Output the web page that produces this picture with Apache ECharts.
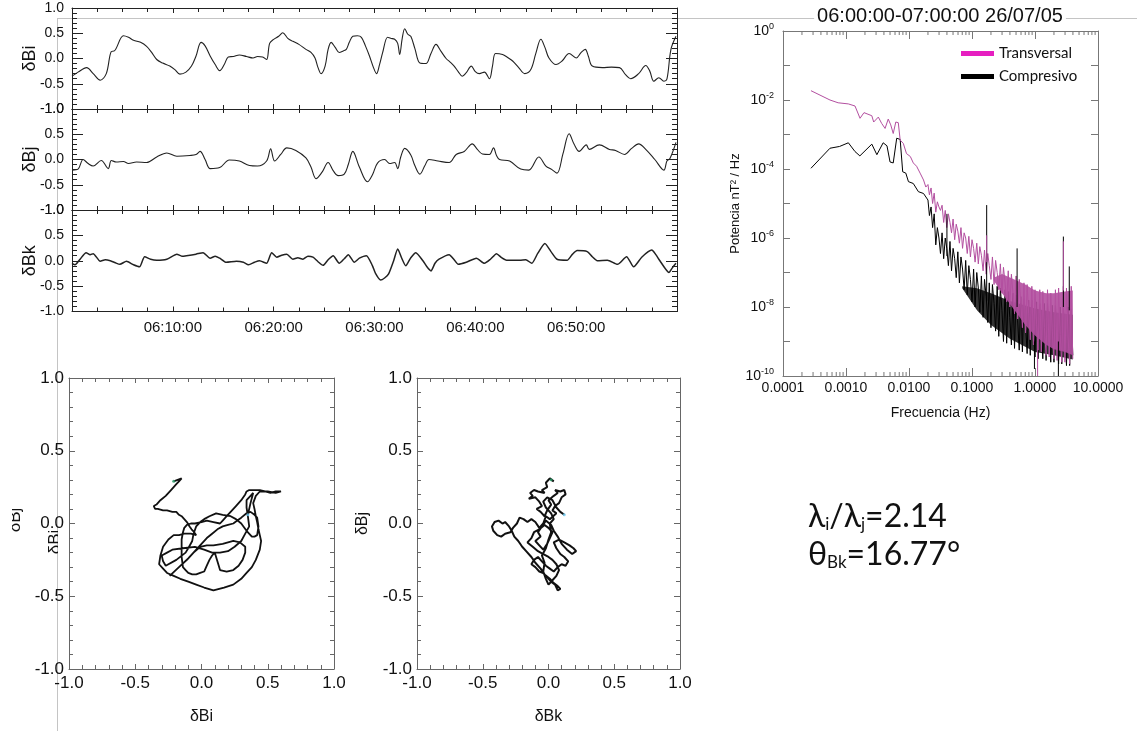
<!DOCTYPE html>
<html>
<head>
<meta charset="utf-8">
<script src="https://cdn.jsdelivr.net/npm/echarts@6/dist/echarts.min.js"></script>
<style>
  html, body { margin: 0; padding: 0; background: #fff; }
  #chart { width: 1137px; height: 731px; }
</style>
</head>
<body>
<div id="chart"></div>
<script>
// ---- Magnetic field fluctuations, minimum-variance frame (minutes after 06:00, nT) ----
const biSeries = [[0,-0.35],[0.6,-0.27],[1.45,-0.18],[2.1,-0.3],[2.8,-0.43],[3.4,-0.3],[3.9,0.14],[4.2,0.15],[5.1,0.45],[5.6,0.42],[6.1,0.36],[6.8,0.32],[7.4,0.24],[7.9,0.12],[8.4,-0.02],[9.0,-0.09],[9.7,-0.15],[10.2,-0.22],[10.7,-0.31],[11.3,-0.27],[11.85,-0.15],[12.3,0.05],[12.8,0.32],[13.2,0.25],[13.7,0.05],[14.2,-0.12],[14.65,-0.24],[15.1,-0.12],[15.5,0.03],[16.0,0.04],[16.6,0.07],[17.3,0.04],[17.95,0.01],[18.4,0.04],[18.9,0.03],[19.3,-0.02],[19.6,0.30],[20.0,0.38],[20.5,0.44],[20.9,0.51],[21.4,0.40],[21.9,0.34],[22.5,0.28],[23.2,0.18],[23.7,0.12],[24.1,0.01],[24.4,-0.18],[24.7,-0.30],[25.1,-0.15],[25.4,0.18],[25.7,0.32],[26.1,0.22],[26.5,0.12],[26.9,0.15],[27.2,0.18],[27.5,0.32],[27.85,0.44],[28.3,0.45],[28.7,0.42],[29.1,0.25],[29.5,0.05],[29.9,-0.18],[30.2,-0.30],[30.5,-0.12],[30.8,0.11],[31.3,0.42],[31.6,0.40],[32.0,0.38],[32.3,0.30],[32.5,0.08],[32.75,0.40],[33.0,0.59],[33.3,0.48],[33.6,0.44],[34.0,0.20],[34.5,-0.09],[35.1,-0.10],[35.6,0.10],[36.1,0.28],[36.6,0.14],[37.1,0.00],[37.5,-0.07],[37.9,-0.15],[38.3,-0.26],[38.7,-0.35],[39.1,-0.28],[39.6,-0.15],[40.0,-0.26],[40.4,-0.30],[40.9,-0.27],[41.4,-0.40],[41.7,-0.15],[42.0,0.10],[42.7,0.08],[43.2,0.02],[43.7,-0.05],[44.3,-0.18],[44.9,-0.30],[45.5,-0.22],[46.0,0.10],[46.5,0.38],[46.9,0.22],[47.3,0.01],[48.0,-0.12],[48.6,-0.05],[49.3,0.10],[50.0,0.01],[50.5,0.12],[50.9,0.18],[51.2,0.05],[51.6,-0.15],[52.6,-0.18],[53.5,-0.17],[54.3,-0.18],[54.9,-0.32],[55.4,-0.40],[56.2,-0.30],[56.9,-0.14],[57.3,-0.25],[57.7,-0.45],[58.2,-0.38],[58.7,-0.45],[59.0,-0.41],[59.4,0.18],[59.9,0.44]];

const bjSeries = [[0,-0.21],[0.6,-0.19],[1.1,0.0],[1.6,-0.08],[2.1,-0.13],[2.9,-0.02],[3.6,-0.18],[3.9,-0.02],[4.4,-0.05],[5.1,-0.04],[5.6,-0.08],[6.4,-0.05],[7.4,-0.06],[8.4,0.05],[9.4,0.13],[10.4,0.065],[11.7,0.08],[12.3,0.10],[12.7,0.16],[13.2,0.0],[13.7,-0.18],[14.65,-0.16],[15.6,-0.01],[16.6,-0.03],[17.6,-0.12],[18.4,-0.13],[19.3,-0.03],[19.7,0.21],[20.1,-0.03],[20.7,0.10],[21.3,0.23],[22.2,0.18],[23.2,0.03],[23.7,-0.15],[24.2,-0.38],[24.8,-0.25],[25.4,-0.06],[25.9,-0.22],[26.4,-0.32],[27.0,-0.29],[27.4,-0.10],[27.85,0.16],[28.5,-0.15],[29.3,-0.44],[29.8,-0.30],[30.3,-0.07],[31.0,0.0],[31.5,-0.08],[32.0,-0.06],[32.3,-0.18],[32.6,0.05],[33.0,0.22],[33.6,0.09],[34.0,-0.12],[34.5,-0.29],[35.0,-0.12],[35.4,0.0],[36.3,-0.03],[37.4,-0.06],[38.1,0.10],[38.9,0.16],[39.7,0.31],[40.2,0.20],[40.7,0.11],[41.4,0.10],[41.8,0.23],[42.1,0.08],[42.4,0.0],[43.4,-0.03],[44.5,-0.19],[45.3,-0.21],[46.3,0.05],[47.0,-0.13],[47.6,-0.20],[48.1,-0.27],[48.7,0.12],[49.3,0.51],[49.8,0.30],[50.3,0.16],[51.0,0.29],[51.3,0.20],[52.3,0.29],[53.3,0.20],[53.9,0.18],[54.8,0.10],[55.5,0.22],[56.2,0.31],[56.9,0.20],[57.8,0.0],[58.7,-0.21],[59.0,-0.03],[59.3,0.02],[59.9,0.34]];

const bkSeries = [[0,-0.05],[0.3,-0.08],[0.8,0.03],[1.4,0.16],[1.8,0.12],[2.1,0.14],[2.8,-0.01],[3.3,0.02],[3.8,0.0],[4.3,-0.04],[4.75,-0.07],[5.4,-0.01],[6.1,-0.08],[6.7,-0.12],[7.2,0.08],[7.8,0.03],[8.4,0.01],[9.4,0.03],[10.4,0.13],[10.9,0.09],[11.35,0.10],[12.3,0.13],[13.0,0.16],[13.7,0.05],[14.2,0.09],[14.65,0.05],[15.3,-0.03],[16.3,-0.01],[17.0,-0.03],[17.5,-0.08],[18.1,-0.03],[18.6,0.0],[19.3,-0.05],[19.8,0.16],[20.3,0.07],[20.8,0.11],[21.3,0.13],[21.9,0.03],[22.4,0.06],[22.9,0.03],[23.4,0.09],[23.9,0.07],[24.4,-0.02],[24.9,-0.09],[25.4,0.02],[25.9,0.10],[26.5,-0.05],[27.0,0.04],[27.4,0.12],[28.0,-0.03],[28.5,0.05],[29.2,0.10],[29.8,-0.10],[30.1,-0.25],[30.6,-0.38],[31.0,-0.34],[31.4,-0.26],[31.9,0.0],[32.3,0.23],[32.7,0.05],[33.1,-0.10],[33.6,0.06],[34.1,0.16],[34.8,0.0],[35.2,-0.12],[35.6,-0.20],[36.0,-0.05],[36.4,0.03],[37.4,0.12],[37.9,0.02],[38.3,-0.07],[39.1,-0.03],[40.1,0.05],[40.9,-0.05],[41.5,0.03],[42.1,0.14],[42.6,0.06],[43.1,0.01],[44.4,0.01],[45.0,0.02],[45.6,-0.05],[46.2,0.15],[46.9,0.34],[47.5,0.18],[48.1,0.03],[49.1,0.01],[49.6,0.12],[50.1,0.20],[51.1,0.18],[51.6,0.08],[52.1,0.0],[53.1,0.01],[54.1,-0.07],[55.0,0.08],[55.7,-0.12],[56.5,0.07],[57.5,0.21],[57.9,0.12],[58.3,0.0],[59.2,-0.23],[59.5,-0.15],[59.9,-0.05]];

const timeTickMinutes = [10, 20, 30, 40, 50];
const timeTickLabels = ['06:10:00', '06:20:00', '06:30:00', '06:40:00', '06:50:00'];

// ---- Power spectra [frequency Hz, nT^2/Hz] ----
const transSpec = [[0.000278,1.86e-2],[0.000557,1.0e-2],[0.00075,8.3e-3],[0.00109,7.7e-3],[0.00139,6.7e-3],[0.00167,2.95e-3],[0.00193,4.3e-3],[0.00257,3.5e-3],[0.00275,2.3e-3],[0.00326,3.2e-3],[0.00368,2.1e-3],[0.00417,1.5e-3],[0.00468,2.8e-3],[0.00513,1.9e-3],[0.00562,1.07e-3],[0.00617,2.3e-3],[0.00676,2.2e-3],[0.00724,6.9e-4],[0.00813,5.5e-4],[0.00912,2.8e-4],[0.0105,2.3e-4],[0.0117,1.5e-4],[0.0132,1.2e-4],[0.015,7.6e-5],[0.017,4.8e-5],[0.0185,3.0e-5],
 [0.0200,3.55e-5],[0.0211,1.78e-5],[0.0224,2.82e-5],[0.0237,1.0e-5],[0.0251,2.0e-5],[0.0266,5.62e-6],[0.0282,1.12e-5],[0.0299,7.94e-6],[0.0316,6.31e-6],[0.0335,8.91e-6],[0.0355,2.82e-6],[0.0376,6.31e-6],[0.0398,2.0e-6],[0.0422,5.01e-6],[0.0447,2.82e-6],[0.0473,1.41e-6],[0.0501,3.55e-6],[0.0531,8.91e-7],[0.0562,2.51e-6],[0.0596,1.58e-6],[0.0631,7.08e-7],[0.0668,2.0e-6],[0.0708,5.01e-7],[0.0750,1.41e-6],[0.0794,1.0e-6],[0.0841,3.55e-7],[0.0891,1.12e-6],[0.0944,2.82e-7],[0.100,8.91e-7],[0.106,5.01e-7],[0.112,2.0e-7],[0.119,7.08e-7],[0.126,1.78e-7],[0.133,5.62e-7],[0.141,3.16e-7],[0.150,1.12e-7],[0.158,4.47e-7],[0.168,8.91e-8],[0.178,3.55e-7],[0.188,1.58e-7],[0.200,6.31e-8],[0.211,2.82e-7],[0.224,4.47e-8],[0.237,2.24e-7],[0.251,1.0e-7],[0.266,3.16e-8],[0.282,1.78e-7],[0.299,2.51e-8],[0.316,1.41e-7],[0.335,5.01e-8],[0.355,1.41e-8],[0.376,1.12e-7],[0.398,1.0e-8],[0.422,8.91e-8],[0.447,2.51e-8],[0.473,6.31e-9],[0.501,7.94e-8],[0.531,4.47e-9],[0.562,6.31e-8],[0.596,1.26e-8],[0.631,2.51e-9],[0.668,5.01e-8],[0.708,1.78e-9],[0.750,4.47e-8],[0.794,6.31e-9],[0.841,1.12e-9],[0.891,3.98e-8],[0.944,7.94e-10],[1.00,3.16e-8],[1.06,3.16e-9],[1.12,5.62e-10],[1.19,3.16e-8],[1.26,5.01e-10],[1.33,2.82e-8],[1.41,2.51e-9],[1.50,3.98e-10],[1.58,3.16e-8],[1.68,3.55e-10],[1.78,2.51e-8],[1.88,2.0e-9],[2.00,3.16e-10],[2.11,3.16e-8],[2.24,2.82e-10],[2.37,3.55e-8],[2.51,1.58e-9],[2.66,2.51e-10],[2.82,3.98e-8],[2.99,2.51e-10],[3.16,3.55e-8],[3.35,1.26e-9],[3.55,2.24e-10],[3.76,3.98e-8],[3.98,3.16e-10]];

const compSpec = [[0.000278,1.05e-4],[0.000557,4.0e-4],[0.00079,4.5e-4],[0.00109,5.75e-4],[0.00139,3.2e-4],[0.00166,2.4e-4],[0.00257,5.25e-4],[0.00309,2.6e-4],[0.00389,5.75e-4],[0.00447,4.7e-4],[0.0050,1.6e-4],[0.00562,1.5e-4],[0.00638,7.8e-4],[0.00724,7.2e-4],[0.00794,8.3e-5],[0.0089,7.6e-5],[0.0098,4.3e-5],[0.0117,3.8e-5],[0.0141,2.2e-5],[0.0170,1.95e-5],
 [0.0200,1.26e-5],[0.0211,4.47e-6],[0.0224,7.94e-6],[0.0237,2.0e-6],[0.0251,5.01e-6],[0.0266,6.31e-7],[0.0282,2.0e-6],[0.0299,1.0e-6],[0.0316,3.55e-7],[0.0335,1.41e-6],[0.0355,2.51e-7],[0.0376,1.0e-6],[0.0398,5.01e-7],[0.0422,1.58e-7],[0.0447,7.94e-7],[0.0473,1.12e-7],[0.0501,5.01e-7],[0.0531,2.51e-7],[0.0562,7.08e-8],[0.0596,3.98e-7],[0.0631,5.01e-8],[0.0668,2.82e-7],[0.0708,1.26e-7],[0.0750,3.16e-8],[0.0794,2.24e-7],[0.0841,2.24e-8],[0.0891,1.58e-7],[0.0944,6.31e-8],[0.100,1.41e-8],[0.106,1.26e-7],[0.112,1.0e-8],[0.119,1.0e-7],[0.126,3.55e-8],[0.133,7.08e-9],[0.141,7.94e-8],[0.150,5.01e-9],[0.158,6.31e-8],[0.168,2.0e-8],[0.178,3.55e-9],[0.188,5.01e-8],[0.200,2.51e-9],[0.211,4.47e-8],[0.224,1.26e-8],[0.237,2.0e-9],[0.251,3.98e-8],[0.266,1.41e-9],[0.282,3.55e-8],[0.299,7.94e-9],[0.316,1.0e-9],[0.335,3.16e-8],[0.355,8.91e-10],[0.376,2.82e-8],[0.398,5.01e-9],[0.422,7.94e-10],[0.447,2.51e-8],[0.473,6.31e-10],[0.501,2.24e-8],[0.531,3.98e-9],[0.562,5.62e-10],[0.596,2.0e-8],[0.631,5.01e-10],[0.668,1.78e-8],[0.708,3.16e-9],[0.750,4.47e-10],[0.794,1.58e-8],[0.841,3.98e-10],[0.891,1.58e-8],[0.944,2.51e-9],[1.00,3.55e-10],[1.06,1.41e-8],[1.12,3.16e-10],[1.19,1.26e-8],[1.26,2.0e-9],[1.33,3.16e-10],[1.41,1.26e-8],[1.50,2.82e-10],[1.58,1.26e-8],[1.68,1.78e-9],[1.78,2.51e-10],[1.88,1.12e-8],[2.00,2.51e-10],[2.11,1.12e-8],[2.24,1.58e-9],[2.37,2.24e-10],[2.51,1.0e-8],[2.66,2.24e-10],[2.82,1.0e-8],[2.99,1.41e-9],[3.16,2.0e-10],[3.35,1.0e-8],[3.55,2.0e-10],[3.76,8.91e-9],[3.98,3.98e-10]];

// upper / lower envelope of the densest high-frequency noise [f, high, low]
const transBand = [[0.22,7e-8,6e-8],[0.3,9e-8,2.5e-8],[0.5,6e-8,7e-9],[0.7,4.5e-8,3e-9],[1.0,3e-8,1.5e-9],[1.5,2.5e-8,8e-10],[2.0,2.5e-8,6e-10],[3.0,2.8e-8,5e-10],[3.98,3e-8,4e-10]];
const compBand = [[0.07,4e-8,3.5e-8],[0.12,3.5e-8,8e-9],[0.2,2.5e-8,3e-9],[0.4,1.5e-8,1.2e-9],[0.7,1.1e-8,7e-10],[1.0,9e-9,5e-10],[2.0,7e-9,4e-10],[3.98,6e-9,3e-10]];

// isolated spectral spikes [f, from, to]
const compSpikes = [[0.04,3e-7,5e-6],[0.171,1.5e-8,9e-6],[0.52,1e-8,5e-7],[0.98,1.6e-10,1e-9],[2.35,1.0e-10,1e-9],[2.82,1e-8,1.1e-6],[3.5,8e-9,1.5e-7]];
const transSpikes = [[0.171,2e-7,1.2e-6],[1.1,1.0e-10,1e-9],[2.82,3e-8,8e-7]];

const specXLabels = ['0.0001', '0.0010', '0.0100', '0.1000', '1.0000', '10.0000'];
const specYExponents = [0, -2, -4, -6, -8, -10];

// ---- Hodograms [x, y] ----
const hodoIJ = [[-0.21,0.29],[-0.18,0.30],[-0.15,0.31],[-0.17,0.29],[-0.19,0.27],[-0.23,0.23],[-0.27,0.19],[-0.31,0.16],[-0.34,0.13],[-0.36,0.12],[-0.35,0.10],[-0.33,0.10],[-0.29,0.09],[-0.26,0.09],[-0.22,0.08],[-0.19,0.08],[-0.17,0.06],[-0.15,0.05],[-0.13,0.03],[-0.11,0.01],[-0.09,-0.02],[-0.075,-0.04],[-0.055,-0.06],[-0.04,-0.08],[-0.08,-0.07],[-0.13,-0.07],[-0.17,-0.08],[-0.21,-0.08],[-0.25,-0.11],[-0.29,-0.16],[-0.31,-0.22],[-0.32,-0.28],[-0.29,-0.31],[-0.26,-0.34],[-0.21,-0.36],[-0.16,-0.38],[-0.10,-0.40],[-0.04,-0.42],[0.02,-0.44],[0.09,-0.46],[0.17,-0.44],[0.24,-0.42],[0.30,-0.38],[0.34,-0.34],[0.38,-0.30],[0.41,-0.25],[0.44,-0.18],[0.45,-0.12],[0.44,-0.08],[0.43,-0.04],[0.42,0.01],[0.41,0.05],[0.40,0.10],[0.39,0.14],[0.41,0.19],[0.44,0.22],[0.50,0.22],[0.56,0.21],[0.60,0.22],[0.56,0.22],[0.52,0.21],[0.48,0.22],[0.44,0.23],[0.40,0.23],[0.36,0.23],[0.34,0.22],[0.33,0.20],[0.30,0.16],[0.26,0.12],[0.22,0.08],[0.19,0.05],[0.16,0.02],[0.14,0.0],[0.09,0.01],[0.04,0.02],[0.0,0.01],[-0.05,0.0],[-0.08,0.0],[-0.11,-0.01],[-0.13,-0.03],[-0.14,-0.06],[-0.15,-0.11],[-0.15,-0.16],[-0.15,-0.23],[-0.14,-0.30],[-0.12,-0.32],[-0.10,-0.34],[-0.07,-0.35],[-0.04,-0.35],[-0.01,-0.34],[0.02,-0.33],[0.04,-0.29],[0.06,-0.25],[0.08,-0.22],[0.10,-0.20],[0.12,-0.26],[0.14,-0.32],[0.19,-0.33],[0.24,-0.32],[0.28,-0.29],[0.31,-0.25],[0.33,-0.20],[0.33,-0.16],[0.29,-0.13],[0.24,-0.12],[0.16,-0.14],[0.09,-0.15],[0.04,-0.15],[-0.01,-0.16],[-0.06,-0.20],[-0.11,-0.25],[-0.17,-0.30],[-0.24,-0.36],[-0.17,-0.30],[-0.10,-0.24],[-0.05,-0.19],[0.00,-0.14],[0.04,-0.10],[0.08,-0.07],[0.12,-0.04],[0.16,-0.02],[0.20,-0.01],[0.24,0.00],[0.27,0.02],[0.30,0.04],[0.34,0.07],[0.37,0.08],[0.40,0.06],[0.42,0.04],[0.43,-0.02],[0.42,-0.08],[0.40,-0.09],[0.38,-0.09],[0.34,-0.05],[0.30,0.00],[0.26,0.03],[0.22,0.05],[0.16,0.06],[0.11,0.07],[0.06,0.05],[0.02,0.03],[-0.01,0.01],[-0.04,-0.02],[-0.06,-0.07],[-0.07,-0.12],[-0.10,-0.17],[-0.12,-0.20],[-0.19,-0.25],[-0.27,-0.29],[-0.29,-0.26],[-0.30,-0.22],[-0.26,-0.20],[-0.22,-0.18],[-0.14,-0.17],[-0.05,-0.16],[0.02,-0.18],[0.08,-0.20],[0.14,-0.20],[0.20,-0.19],[0.25,-0.16],[0.30,-0.12],[0.33,-0.07],[0.36,-0.02],[0.35,0.05],[0.34,0.11],[0.34,0.16],[0.37,0.19],[0.39,0.21],[0.37,0.14],[0.35,0.06]];

const hodoKJ = [[0.02,0.30],[0.04,0.29],[0.01,0.31],[-0.02,0.28],[-0.01,0.25],[-0.05,0.23],[-0.03,0.21],[-0.08,0.22],[-0.11,0.23],[-0.14,0.21],[-0.12,0.19],[-0.15,0.17],[-0.10,0.18],[-0.07,0.15],[-0.05,0.12],[-0.09,0.10],[-0.06,0.08],[-0.03,0.05],[-0.01,0.09],[0.02,0.13],[0.0,0.16],[0.04,0.19],[0.07,0.21],[0.05,0.23],[0.09,0.22],[0.12,0.23],[0.13,0.20],[0.10,0.18],[0.08,0.14],[0.05,0.12],[0.03,0.09],[0.06,0.07],[0.01,0.03],[-0.02,0.05],[-0.04,0.0],[-0.07,-0.03],[-0.10,0.01],[-0.13,0.03],[-0.16,0.01],[-0.19,0.03],[-0.22,0.04],[-0.24,0.0],[-0.27,-0.03],[-0.29,-0.06],[-0.33,-0.07],[-0.36,-0.09],[-0.39,-0.08],[-0.42,-0.05],[-0.43,-0.02],[-0.41,0.01],[-0.38,0.02],[-0.35,0.0],[-0.33,0.01],[-0.30,-0.02],[-0.28,-0.05],[-0.26,-0.09],[-0.23,-0.12],[-0.20,-0.16],[-0.17,-0.19],[-0.13,-0.23],[-0.10,-0.27],[-0.06,-0.31],[-0.03,-0.35],[0.01,-0.38],[0.04,-0.41],[0.07,-0.43],[0.09,-0.45],[0.07,-0.46],[0.05,-0.42],[0.02,-0.40],[-0.01,-0.37],[-0.04,-0.34],[-0.07,-0.33],[-0.10,-0.30],[-0.13,-0.28],[-0.11,-0.25],[-0.08,-0.23],[-0.05,-0.26],[-0.02,-0.29],[0.01,-0.31],[0.04,-0.33],[0.07,-0.30],[0.10,-0.28],[0.13,-0.29],[0.15,-0.26],[0.12,-0.23],[0.09,-0.21],[0.06,-0.17],[0.04,-0.13],[0.08,-0.11],[0.12,-0.13],[0.16,-0.15],[0.19,-0.17],[0.21,-0.19],[0.18,-0.21],[0.14,-0.18],[0.10,-0.14],[0.07,-0.09],[0.04,-0.05],[0.02,-0.01],[-0.02,0.02],[-0.05,-0.02],[-0.08,-0.06],[-0.06,-0.09],[-0.10,-0.12],[-0.07,-0.15],[-0.04,-0.18],[-0.01,-0.14],[0.01,-0.10],[0.03,-0.06],[0.00,-0.03],[-0.03,-0.01],[-0.07,-0.04],[-0.11,-0.06],[-0.13,-0.10],[-0.16,-0.13],[-0.12,-0.16],[-0.08,-0.19],[-0.04,-0.21],[0.0,-0.23],[0.03,-0.25],[0.06,-0.28],[0.08,-0.32],[0.06,-0.36],[0.03,-0.39],[0.0,-0.42],[-0.02,-0.38],[-0.04,-0.33],[-0.03,-0.27],[-0.05,-0.22],[-0.02,-0.17],[0.0,-0.11],[0.02,-0.06],[0.01,0.0],[0.04,0.03],[0.02,0.07],[-0.02,0.11],[-0.04,0.15],[-0.01,0.18],[0.03,0.16],[0.06,0.11],[0.09,0.08],[0.12,0.06]];

// ---------------------------------------------------------------------------
const SANS = 'Liberation Sans, Arial, sans-serif';
const HUMAN = 'Lato, "Open Sans", sans-serif';
const INK = '#111';

const grids = [
  { left: 72, top: 8, width: 605, height: 101 },
  { left: 72, top: 109, width: 605, height: 101 },
  { left: 72, top: 210, width: 605, height: 101.5 },
  { left: 783, top: 31, width: 315, height: 345 },
  { left: 69, top: 378, width: 265, height: 291 },
  { left: 417, top: 378, width: 263, height: 291 }
];

const xAxes = [];
const yAxes = [];

function tick(len, color) { return { show: true, inside: true, length: len, lineStyle: { color: color, width: 1 } }; }
function line(color) { return { show: true, onZero: false, lineStyle: { color: color, width: 1 } }; }

// time-series panels: bottom/top time axes, left/right field axes
const tsNames = ['δBi', 'δBj', 'δBk'];
for (let g = 0; g < 3; g++) {
  ['bottom', 'top'].forEach(pos => {
    xAxes.push({
      type: 'value', gridIndex: g, position: pos, min: 0, max: 60, interval: 10,
      axisLine: line('#222'), axisTick: tick(5, '#222'),
      minorTick: { show: true, splitNumber: 4, length: 4, lineStyle: { color: '#222' } },
      splitLine: { show: false },
      axisLabel: (pos === 'bottom' && g === 2) ? {
        show: true, margin: 9, fontSize: 15, fontFamily: SANS, color: INK,
        formatter: v => { const i = timeTickMinutes.indexOf(Math.round(v)); return i < 0 ? '' : timeTickLabels[i]; }
      } : { show: false }
    });
  });
  ['left', 'right'].forEach(pos => {
    yAxes.push({
      type: 'value', gridIndex: g, position: pos, min: -1, max: 1, interval: 0.5,
      axisLine: line('#222'), axisTick: tick(11, '#222'),
      minorTick: { show: true, splitNumber: 5, length: 5, lineStyle: { color: '#222' } },
      splitLine: { show: false },
      axisLabel: pos === 'left' ? { show: true, margin: 8, fontSize: 14, fontFamily: SANS, color: INK, formatter: v => v.toFixed(1) } : { show: false },
      name: pos === 'left' ? tsNames[g] : '',
      nameLocation: 'middle', nameGap: 33, nameRotate: 90, nameMoveOverlap: false,
      nameTextStyle: { fontSize: 18, fontFamily: SANS, color: INK }
    });
  });
}

// spectrum panel: log-log
['bottom', 'top'].forEach(pos => {
  xAxes.push({
    type: 'log', logBase: 10, gridIndex: 3, position: pos, min: 1e-4, max: 10, interval: 1,
    axisLine: line('#777'), axisTick: tick(8, '#777'), minorTick: { show: false },
    splitLine: { show: false },
    axisLabel: pos === 'bottom' ? {
      show: true, margin: 5, fontSize: 14, fontFamily: SANS, color: INK,
      formatter: v => specXLabels[Math.round(Math.log10(v)) + 4]
    } : { show: false },
    name: pos === 'bottom' ? 'Frecuencia (Hz)' : '',
    nameLocation: 'middle', nameGap: 30,
    nameTextStyle: { fontSize: 14, fontFamily: SANS, color: INK }
  });
});
['left', 'right'].forEach(pos => {
  yAxes.push({
    type: 'log', logBase: 10, gridIndex: 3, position: pos, min: 1e-10, max: 1, interval: 1,
    axisLine: line('#777'), axisTick: tick(7, '#777'), minorTick: { show: false },
    splitLine: { show: false },
    axisLabel: pos === 'left' ? {
      show: true, margin: 9, fontFamily: SANS, color: INK,
      formatter: v => { const e = Math.round(Math.log10(v)); return specYExponents.indexOf(e) < 0 ? '' : '{b|10}{e|' + e + '}'; },
      rich: {
        b: { fontSize: 14, fontFamily: SANS, color: INK },
        e: { fontSize: 9, fontFamily: SANS, color: INK, padding: [0, 0, 9, 0] }
      }
    } : { show: false },
    name: pos === 'left' ? 'Potencia nT² / Hz' : '',
    nameLocation: 'middle', nameGap: 38, nameRotate: 90,
    nameTextStyle: { fontSize: 13, fontFamily: SANS, color: INK }
  });
});

// hodogram panels
const hodoXNames = ['δBi', 'δBk'];
const hodoYNames = ['', 'δBj'];
for (let h = 0; h < 2; h++) {
  const g = 4 + h;
  ['bottom', 'top'].forEach(pos => {
    xAxes.push({
      type: 'value', gridIndex: g, position: pos, min: -1, max: 1, interval: 0.5,
      axisLine: line('#666'), axisTick: tick(5, '#666'),
      minorTick: { show: true, splitNumber: 5, length: 4, lineStyle: { color: '#666' } },
      splitLine: { show: false },
      axisLabel: pos === 'bottom' ? { show: true, margin: 6, fontSize: 17, fontFamily: SANS, color: INK, formatter: v => v.toFixed(1) } : { show: false },
      name: pos === 'bottom' ? hodoXNames[h] : '',
      nameLocation: 'middle', nameGap: 40,
      nameTextStyle: { fontSize: 16, fontFamily: SANS, color: INK }
    });
  });
  ['left', 'right'].forEach(pos => {
    yAxes.push({
      type: 'value', gridIndex: g, position: pos, min: -1, max: 1, interval: 0.5,
      axisLine: line('#666'), axisTick: tick(6, '#666'),
      minorTick: { show: true, splitNumber: 5, length: 4, lineStyle: { color: '#666' } },
      splitLine: { show: false },
      axisLabel: pos === 'left' ? { show: true, margin: 5, fontSize: 17, fontFamily: SANS, color: INK, formatter: v => v.toFixed(1) } : { show: false },
      name: pos === 'left' ? hodoYNames[h] : '',
      nameLocation: 'middle', nameGap: 46, nameRotate: 90,
      nameTextStyle: { fontSize: 16, fontFamily: SANS, color: INK }
    });
  });
}

// minor log ticks on the frequency axis (2..9 within each decade)
const specMinor = [];
for (let k = -4; k <= 0; k++) for (let m = 2; m <= 9; m++) specMinor.push([m * Math.pow(10, k), 1e-10]);

function bandSeries(name, band, color, opacity, z) {
  return {
    type: 'custom', name: name, xAxisIndex: 6, yAxisIndex: 6, clip: true, silent: true, z: z,
    data: band,
    renderItem: (params, api) => {
      if (params.dataIndex !== 0) return null;
      const up = band.map(d => api.coord([d[0], d[1]]));
      const dn = band.slice().reverse().map(d => api.coord([d[0], d[2]]));
      return { type: 'polygon', shape: { points: up.concat(dn) }, style: { fill: color, opacity: opacity } };
    }
  };
}
function spikeSeries(name, spikes, color, z) {
  return {
    type: 'custom', name: name, xAxisIndex: 6, yAxisIndex: 6, clip: true, silent: true, z: z,
    data: spikes,
    renderItem: (params, api) => {
      const a = api.coord([api.value(0), api.value(1)]);
      const b = api.coord([api.value(0), api.value(2)]);
      return { type: 'line', shape: { x1: a[0], y1: a[1], x2: b[0], y2: b[1] }, style: { stroke: color, lineWidth: 1 } };
    }
  };
}

const TRANS = '#b34fa0';
const series = [
  { type: 'line', name: 'δBi', xAxisIndex: 0, yAxisIndex: 0, data: biSeries, showSymbol: false, smooth: 0.35, lineStyle: { color: '#222', width: 1.1 } },
  { type: 'line', name: 'δBj', xAxisIndex: 2, yAxisIndex: 2, data: bjSeries, showSymbol: false, smooth: 0.35, lineStyle: { color: '#222', width: 1.1 } },
  { type: 'line', name: 'δBk', xAxisIndex: 4, yAxisIndex: 4, data: bkSeries, showSymbol: false, smooth: 0.2, lineStyle: { color: '#222', width: 1.5 } },

  bandSeries('compBand', compBand, '#000', 0.8, 2),
  { type: 'line', name: 'Compresivo', xAxisIndex: 6, yAxisIndex: 6, data: compSpec, showSymbol: false, z: 3, color: '#000', lineStyle: { color: '#000', width: 1 } },
  bandSeries('transBand', transBand, TRANS, 0.9, 4),
  { type: 'line', name: 'Transversal', xAxisIndex: 6, yAxisIndex: 6, data: transSpec, showSymbol: false, z: 5, color: TRANS, lineStyle: { color: TRANS, width: 1 } },
  spikeSeries('compSpikes', compSpikes, '#000', 6),
  spikeSeries('transSpikes', transSpikes, TRANS, 6),
  {
    type: 'custom', name: 'logMinor', xAxisIndex: 6, yAxisIndex: 6, silent: true, z: 7, data: specMinor,
    renderItem: (params, api) => {
      const b = api.coord([api.value(0), 1e-10]);
      const t = api.coord([api.value(0), 1]);
      return { type: 'group', children: [
        { type: 'line', shape: { x1: b[0], y1: b[1], x2: b[0], y2: b[1] - 4 }, style: { stroke: '#777', lineWidth: 1 } },
        { type: 'line', shape: { x1: t[0], y1: t[1], x2: t[0], y2: t[1] + 4 }, style: { stroke: '#777', lineWidth: 1 } }
      ] };
    }
  },

  { type: 'line', name: 'hodoIJ', xAxisIndex: 8, yAxisIndex: 8, data: hodoIJ, showSymbol: false, lineStyle: { color: '#111', width: 1.8 } },
  { type: 'line', name: 'hodoKJ', xAxisIndex: 10, yAxisIndex: 10, data: hodoKJ, showSymbol: false, lineStyle: { color: '#111', width: 2 } },
  { type: 'scatter', name: 'startIJ', xAxisIndex: 8, yAxisIndex: 8, data: [hodoIJ[0]], symbolSize: 3, itemStyle: { color: '#2a9d6a' }, z: 5 },
  { type: 'scatter', name: 'endIJ', xAxisIndex: 8, yAxisIndex: 8, data: [hodoIJ[hodoIJ.length - 1]], symbolSize: 3, itemStyle: { color: '#6cc8ef' }, z: 5 },
  { type: 'scatter', name: 'startKJ', xAxisIndex: 10, yAxisIndex: 10, data: [hodoKJ[0]], symbolSize: 3, itemStyle: { color: '#2a9d6a' }, z: 5 },
  { type: 'scatter', name: 'endKJ', xAxisIndex: 10, yAxisIndex: 10, data: [hodoKJ[hodoKJ.length - 1]], symbolSize: 3, itemStyle: { color: '#6cc8ef' }, z: 5 }
];

const graphic = [
  // slide border lines
  { type: 'line', z: 0, shape: { x1: 57, y1: 18.5, x2: 1137, y2: 18.5 }, style: { stroke: '#c4c4c4', lineWidth: 1 } },
  { type: 'line', z: 0, shape: { x1: 57.5, y1: 18, x2: 57.5, y2: 731 }, style: { stroke: '#c4c4c4', lineWidth: 1 } },
  // title of the spectrum panel
  { type: 'text', z: 20, x: 940, y: 16, style: { text: '06:00:00-07:00:00 26/07/05', fontSize: 20, fontFamily: SANS, fill: INK, align: 'center', verticalAlign: 'middle', backgroundColor: '#fff', padding: [2, 3] } },
  // variance ratio and propagation angle
  { type: 'text', z: 20, x: 808, y: 515, style: {
      text: '{a|λ}{s|i}{a|/λ}{s|j}{a|=2.14}', verticalAlign: 'middle', fill: INK,
      rich: { a: { fontSize: 32, fontFamily: HUMAN, fill: INK, lineHeight: 36, verticalAlign: 'bottom' },
              s: { fontSize: 17, fontFamily: HUMAN, fill: INK, lineHeight: 17, verticalAlign: 'bottom' } } } },
  { type: 'text', z: 20, x: 808, y: 553, style: {
      text: '{a|θ}{s|Bk}{a|=16.77°}', verticalAlign: 'middle', fill: INK,
      rich: { a: { fontSize: 32, fontFamily: HUMAN, fill: INK, lineHeight: 36, verticalAlign: 'bottom' },
              s: { fontSize: 17, fontFamily: HUMAN, fill: INK, lineHeight: 17, verticalAlign: 'bottom' } } } },
  // overlapping y titles of the first hodogram
  { type: 'text', z: 20, x: 15, y: 520, rotation: Math.PI / 2, style: { text: 'δBj', fontSize: 17, fontFamily: SANS, fill: INK, align: 'center', verticalAlign: 'middle' } },
  { type: 'rect', z: 21, shape: { x: 0, y: 495, width: 12, height: 55 }, style: { fill: '#fff' } },
  { type: 'text', z: 20, x: 55, y: 542, rotation: Math.PI / 2, style: { text: 'δBi', fontSize: 17, fontFamily: SANS, fill: INK, align: 'center', verticalAlign: 'middle' } },
  { type: 'rect', z: 21, shape: { x: 58, y: 531, width: 6, height: 30 }, style: { fill: '#fff' } }
];

const chart = echarts.init(document.getElementById('chart'), null, { renderer: 'canvas' });
chart.setOption({
  animation: false,
  backgroundColor: '#fff',
  grid: grids,
  xAxis: xAxes,
  yAxis: yAxes,
  legend: {
    show: true, orient: 'vertical', left: 956, top: 41, icon: 'rect', itemWidth: 33, itemHeight: 5, itemGap: 8,
    selectedMode: false,
    textStyle: { fontFamily: HUMAN, fontSize: 15, color: INK, lineHeight: 15 },
    data: [
      { name: 'Transversal', itemStyle: { color: '#e61fc0' } },
      { name: 'Compresivo', itemStyle: { color: '#000' } }
    ]
  },
  series: series,
  graphic: graphic
});
</script>
</body>
</html>
